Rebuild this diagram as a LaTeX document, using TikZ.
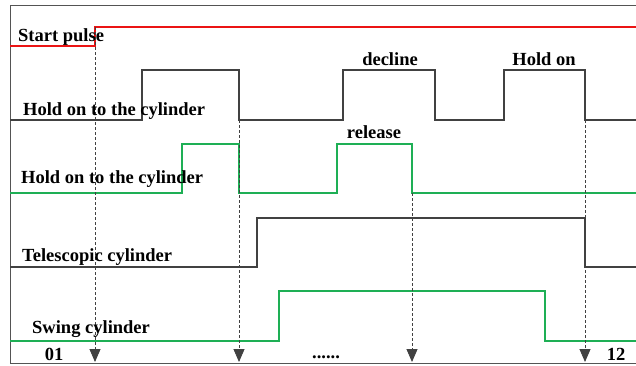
\documentclass[tikz,border=0pt]{standalone}
\usepackage{fontspec}
\setmainfont{Liberation Serif}
\usetikzlibrary{arrows.meta}
\definecolor{sigred}{RGB}{235,20,20}
\definecolor{siggreen}{RGB}{30,175,85}
\definecolor{siggray}{RGB}{65,65,65}
\begin{document}
\begin{tikzpicture}[x=1pt,y=-1pt,line join=miter,
      frame line/.style={draw=siggray!90,line width=1pt},
      black sig/.style={draw=siggray,line width=1.3pt},
      green sig/.style={draw=siggreen,line width=1.3pt},
      red sig/.style={draw=sigred,line width=1.5pt},
      time line/.style={draw=siggray,dash pattern=on 3pt off 2pt,line width=0.9pt,
        -{Triangle[length=13pt,width=11pt,fill=siggray]}},
      sig label/.style={inner sep=0pt,anchor=base west,font=\bfseries\fontsize{18.5}{19}\selectfont},
      top label/.style={inner sep=0pt,anchor=base,font=\bfseries\fontsize{18.5}{19}\selectfont}]
      \useasboundingbox (0,0) rectangle (636,365);
      % frame
      \draw[frame line] (636,5) -- (10,5) -- (10,363) -- (636,363);

      % signals
      \draw[red sig] (10,46) -- (95,46) -- (95,27) -- (636,27);
      \draw[black sig] (10,120) -- (142,120) -- (142,70) -- (239,70) -- (239,120)
        -- (343,120) -- (343,70) -- (435,70) -- (435,120) -- (504,120) -- (504,70)
        -- (585,70) -- (585,120) -- (636,120);
      \draw[green sig] (10,193) -- (182,193) -- (182,144) -- (239,144) -- (239,193)
        -- (337,193) -- (337,144) -- (412,144) -- (412,193) -- (636,193);
      \draw[black sig] (10,267) -- (257,267) -- (257,218) -- (585,218) -- (585,267) -- (636,267);
      \draw[green sig] (10,341) -- (279,341) -- (279,291) -- (545,291) -- (545,341) -- (636,341);

      % time marks
      \coordinate (s1) at (95,27);   \coordinate (e1) at (95,362);
      \coordinate (s2) at (239,120); \coordinate (e2) at (239,362);
      \coordinate (s3) at (412,193); \coordinate (e3) at (412,362);
      \coordinate (s4) at (585,120); \coordinate (e4) at (585,362);
      \foreach \i in {1,...,4}
        \draw[time line] (s\i) -- (e\i);

      % labels
      \node[sig label] (start) at (18,41) {Start pulse};
      \node[sig label] (hold1) at (23,115) {Hold on to the cylinder};
      \node[sig label] (hold2) at (21,183) {Hold on to the cylinder};
      \node[sig label] (tele) at (22,261) {Telescopic cylinder};
      \node[sig label] (swing) at (32,333) {Swing cylinder};
      \node[top label] (decline) at (390,65) {decline};
      \node[top label] (holdon) at (544,65) {Hold on};
      \node[top label] (release) at (374,138) {release};
      \node[top label] (first) at (54,360) {01};
      \node[top label] (dots) at (326,358) {......};
      \node[top label] (last) at (616,360) {12};
    \end{tikzpicture}
\end{document}
